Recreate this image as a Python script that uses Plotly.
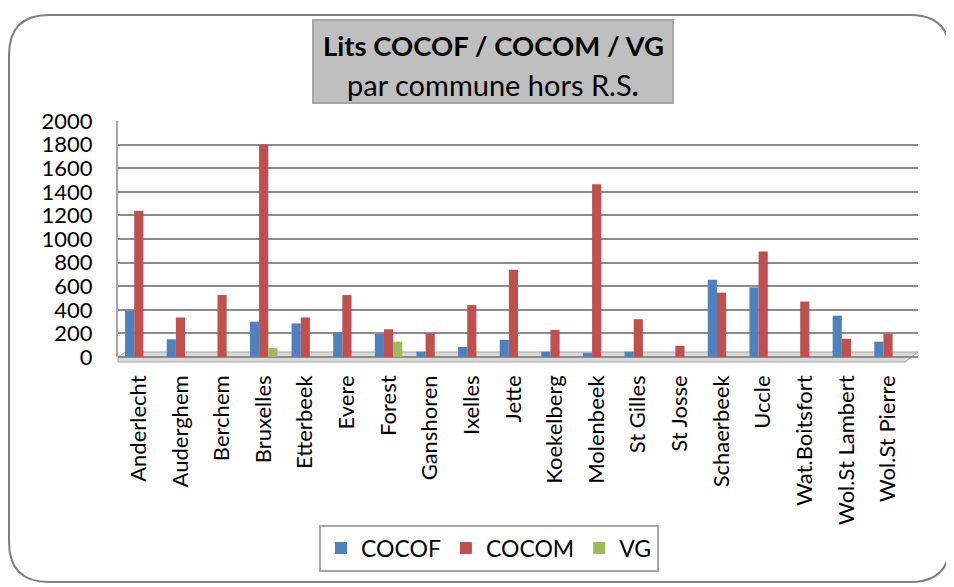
import plotly.graph_objects as go

communes = ['Anderlecht', 'Auderghem', 'Berchem', 'Bruxelles', 'Etterbeek', 'Evere',
            'Forest', 'Ganshoren', 'Ixelles', 'Jette', 'Koekelberg', 'Molenbeek',
            'St Gilles', 'St Josse', 'Schaerbeek', 'Uccle', 'Wat.Boitsfort',
            'Wol.St Lambert', 'Wol.St Pierre']

cocof = [390, 150, 0, 300, 285, 210, 195, 45, 85, 145, 45, 35, 45, 0, 655, 590, 0, 350, 130]
cocom = [1240, 335, 525, 1800, 335, 525, 235, 200, 440, 740, 230, 1465, 320, 95, 545, 895, 470, 155, 195]
vg = [0, 0, 0, 75, 0, 0, 130, 0, 0, 0, 0, 0, 0, 0, 0, 0, 0, 0, 0]

y_ticks = [0, 200, 400, 600, 800, 1000, 1200, 1400, 1600, 1800, 2000]

# positions below are given in window pixels; the figure sits 8px in from the corner
OFF = 8
W, H = 954 - OFF, 587 - OFF
L, R, T, B = 118 - OFF, 36, 121 - OFF, 230
PW, PH = W - L - R, H - T - B

def px(x):
    return (x - OFF - L) / PW

def py(y):
    return 1 - (y - OFF - T) / PH

FONT = 'Lato'

fig = go.Figure()

fig.add_trace(go.Bar(
    name = 'COCOF', x = communes, y = cocof,
    marker = dict(color = '#4f81bd', line = dict(width = 0))
))
fig.add_trace(go.Bar(
    name = 'COCOM', x = communes, y = cocom,
    marker = dict(color = '#c0504d', line = dict(width = 0))
))
fig.add_trace(go.Bar(
    name = 'VG', x = communes, y = vg,
    marker = dict(color = '#9bbb59', line = dict(width = 0))
))

# rounded outer frame
x0, x1, y0, y1, rr = px(9), px(950), py(15), py(582), 40
rx, ry = rr / PW, rr / PH
frame = (f'M {x0},{y0 - ry} Q {x0},{y0} {x0 + rx},{y0} '
         f'L {x1 - rx},{y0} Q {x1},{y0} {x1},{y0 - ry} '
         f'L {x1},{y1 + ry} Q {x1},{y1} {x1 - rx},{y1} '
         f'L {x0 + rx},{y1} Q {x0},{y1} {x0},{y1 + ry} Z')

fig.add_shape(type = 'path', path = frame, xref = 'paper', yref = 'paper',
              line = dict(color = '#7f7f7f', width = 2), layer = 'below')

# floor of the 3d chart
floor = (f'M {px(118)},{py(357)} L {px(125)},{py(352)} L {px(918)},{py(352)} '
         f'L {px(905)},{py(362)} L {px(118)},{py(362)} Z')
fig.add_shape(type = 'path', path = floor, xref = 'paper', yref = 'paper',
              fillcolor = '#d9d9d9', line = dict(color = '#a6a6a6', width = 1), layer = 'below')

# title box
fig.add_shape(type = 'rect', xref = 'paper', yref = 'paper',
              x0 = px(313), x1 = px(673), y0 = py(20), y1 = py(103),
              fillcolor = '#bfbfbf', line = dict(color = '#a6a6a6', width = 2))

fig.add_annotation(text = '<b>Lits COCOF / COCOM / VG</b>', xref = 'paper', yref = 'paper',
                   x = px(493), y = py(46), xanchor = 'center', yanchor = 'middle',
                   showarrow = False,
                   font = dict(family = FONT, size = 27.5, color = '#000000'))
fig.add_annotation(text = 'par commune hors R.S<b>.</b>', xref = 'paper', yref = 'paper',
                   x = px(493), y = py(84), xanchor = 'center', yanchor = 'middle',
                   showarrow = False,
                   font = dict(family = FONT, size = 29, color = '#000000'))

fig.update_layout(
    width = W, height = H,
    margin = dict(l = L, r = R, t = T, b = B, autoexpand = False),
    paper_bgcolor = 'white', plot_bgcolor = 'white',
    barmode = 'group', bargap = 0.34, bargroupgap = 0,
    font = dict(family = FONT, size = 22, color = '#000000'),
    showlegend = True,
    legend = dict(
        orientation = 'h', x = px(489), y = py(548), xanchor = 'center', yanchor = 'middle',
        bordercolor = '#a6a6a6', borderwidth = 2, font = dict(size = 23),
        itemwidth = 30, traceorder = 'normal'
    )
)

fig.update_xaxes(
    range = [-0.5, 18.72], tickangle = -90, ticklabelstandoff = 13,
    showgrid = False, showline = False, zeroline = False
)

fig.update_yaxes(
    range = [0, 2000], tickvals = y_ticks, ticklabelstandoff = 19,
    showgrid = True, gridcolor = '#8c8c8c', gridwidth = 2,
    zeroline = True, zerolinecolor = '#8c8c8c', zerolinewidth = 2,
    showline = True, linecolor = '#a6a6a6', linewidth = 2
)

fig.write_html('out.html')
